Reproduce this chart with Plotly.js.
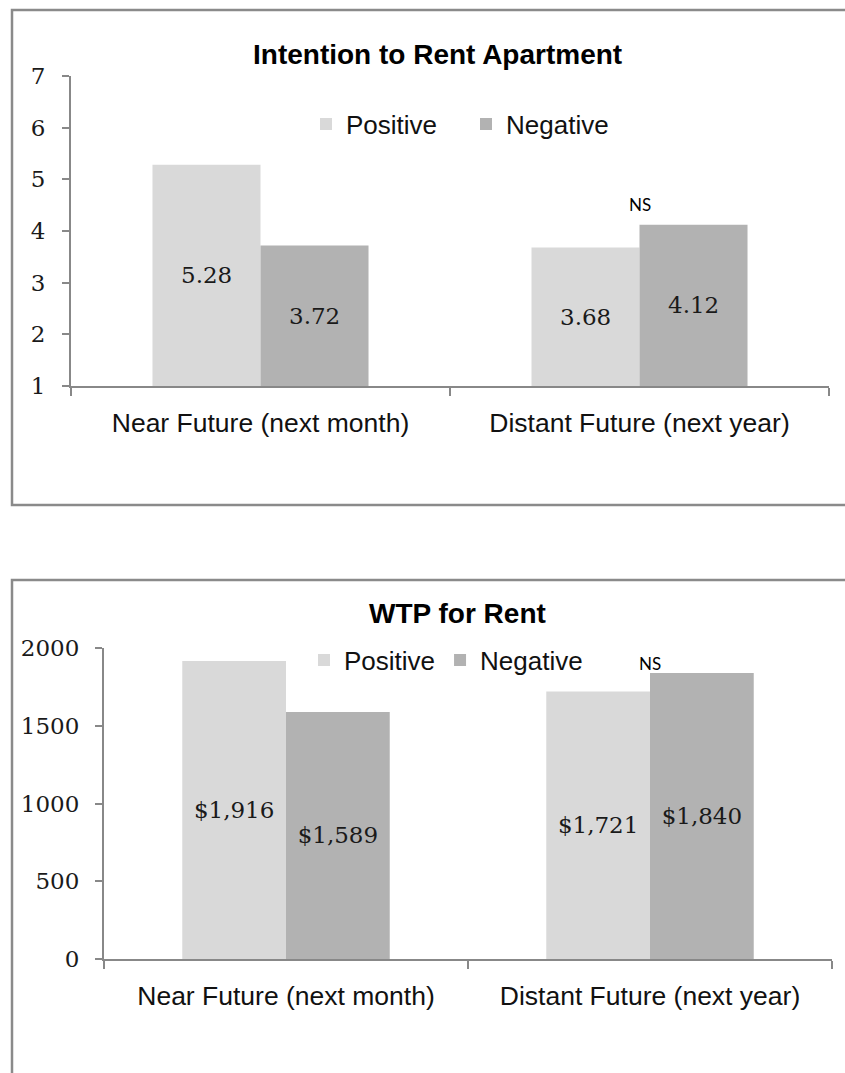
<!DOCTYPE html>
<html><head><meta charset="utf-8">
<script src="https://cdn.plot.ly/plotly-3.0.1.min.js"></script>
<style>html,body{margin:0;padding:0;background:#fff;} #chart{width:845px;height:1073px;}</style>
</head><body><div id="chart"></div>
<script>
// ---- data ----
const categories = ['Near Future (next month)', 'Distant Future (next year)'];
const seriesNames = ['Positive', 'Negative'];
const intentPositive = [5.28, 3.68];
const intentNegative = [3.72, 4.12];
const wtpPositive = [1916, 1721];
const wtpNegative = [1589, 1840];
const intentTicks = [1, 2, 3, 4, 5, 6, 7];
const wtpTicks = [0, 500, 1000, 1500, 2000];
const titleTop = 'Intention to Rent Apartment';
const titleBottom = 'WTP for Rent';
const sigNote = 'NS';

// ---- style ----
const W = 845, H = 1073;
const px = x => x / W;
const py = y => 1 - y / H;
const colPos = '#d9d9d9', colNeg = '#b2b2b2';
const axisCol = '#888888';
const sans = 'Liberation Sans, Arial, sans-serif';
const serif = 'DejaVu Serif, serif';
const BARGAP = 0.43;
const half = (1 - BARGAP) / 4; // offset of each bar centre from category centre

const traces = [
  {type: 'bar', x: categories, y: intentPositive, name: seriesNames[0], marker: {color: colPos},
   xaxis: 'x', yaxis: 'y', legend: 'legend'},
  {type: 'bar', x: categories, y: intentNegative, name: seriesNames[1], marker: {color: colNeg},
   xaxis: 'x', yaxis: 'y', legend: 'legend'},
  {type: 'bar', x: categories, y: wtpPositive, name: seriesNames[0], marker: {color: colPos},
   xaxis: 'x2', yaxis: 'y2', legend: 'legend2',
   texttemplate: '$%{y:,}', textposition: 'inside', insidetextanchor: 'middle', textangle: 0,
   constraintext: 'none', textfont: {family: serif, size: 23, color: '#1a1a1a'}},
  {type: 'bar', x: categories, y: wtpNegative, name: seriesNames[1], marker: {color: colNeg},
   xaxis: 'x2', yaxis: 'y2', legend: 'legend2',
   texttemplate: '$%{y:,}', textposition: 'inside', insidetextanchor: 'middle', textangle: 0,
   constraintext: 'none', textfont: {family: serif, size: 23, color: '#1a1a1a'}}
];

function xAxis(domain, anchor) {
  return {domain: domain, anchor: anchor, type: 'category', showline: true, linecolor: axisCol, linewidth: 2,
    ticks: 'outside', tickson: 'boundaries', ticklen: 8, tickwidth: 2, tickcolor: axisCol,
    tickfont: {family: sans, size: 26.5, color: '#111'}, ticklabelstandoff: 12,
    showgrid: false, zeroline: false, fixedrange: true};
}
function yAxis(domain, anchor, range, ticks, standoff) {
  return {domain: domain, anchor: anchor, range: range, tickvals: ticks, ticktext: ticks.map(String),
    showline: true, linecolor: axisCol, linewidth: 2,
    ticks: 'outside', ticklen: 7, tickwidth: 2, tickcolor: axisCol,
    tickfont: {family: serif, size: 23, color: '#1a1a1a'}, ticklabelstandoff: standoff,
    showgrid: false, zeroline: false, fixedrange: true};
}

const annotations = [];
annotations.push({xref: 'paper', yref: 'paper', x: px(437), y: py(54), text: '<b>' + titleTop + '</b>',
  showarrow: false, xanchor: 'center', yanchor: 'middle', font: {family: sans, size: 28, color: '#000'}});
annotations.push({xref: 'paper', yref: 'paper', x: px(457), y: py(613), text: '<b>' + titleBottom + '</b>',
  showarrow: false, xanchor: 'center', yanchor: 'middle', font: {family: sans, size: 28, color: '#000'}});
// value labels for top chart, centred in the visible part of each bar
const yMin = intentTicks[0];
[intentPositive, intentNegative].forEach((arr, s) => {
  arr.forEach((v, i) => {
    annotations.push({xref: 'x', yref: 'y', x: i + (s === 0 ? -half : half), y: (v + yMin) / 2,
      text: v.toFixed(2), showarrow: false, xanchor: 'center', yanchor: 'middle',
      font: {family: serif, size: 23, color: '#1a1a1a'}});
  });
});
annotations.push({xref: 'x', yref: 'paper', x: 1, y: py(205), text: sigNote, showarrow: false,
  xanchor: 'center', yanchor: 'middle', font: {family: 'Lato, sans-serif', size: 17, color: '#000'}});
annotations.push({xref: 'x2', yref: 'paper', x: 1, y: py(663), text: sigNote, showarrow: false,
  xanchor: 'center', yanchor: 'middle', font: {family: 'Lato, sans-serif', size: 17, color: '#000'}});

const layout = {
  width: W, height: H, autosize: false,
  margin: {l: 0, r: 0, t: 0, b: 0},
  paper_bgcolor: '#fff', plot_bgcolor: 'rgba(0,0,0,0)',
  barmode: 'group', bargap: BARGAP, bargroupgap: 0,
  xaxis: xAxis([px(71), px(829)], 'y'),
  yaxis: yAxis([py(386), py(76)], 'x', [1, 7], intentTicks, 12),
  xaxis2: xAxis([px(104), px(832)], 'y2'),
  yaxis2: yAxis([py(959), py(648)], 'x2', [0, 2000], wtpTicks, 11),
  legend: {orientation: 'h', x: px(306), xanchor: 'left', y: py(124), yanchor: 'middle',
    font: {family: sans, size: 26, color: '#111'}, bgcolor: 'rgba(0,0,0,0)',
    entrywidth: 115, entrywidthmode: 'pixels', traceorder: 'normal'},
  legend2: {orientation: 'h', x: px(304), xanchor: 'left', y: py(660), yanchor: 'middle',
    font: {family: sans, size: 26, color: '#111'}, bgcolor: 'rgba(0,0,0,0)',
    traceorder: 'normal'},
  annotations: annotations,
  shapes: [
    {type: 'rect', xref: 'paper', yref: 'paper', x0: px(12), x1: px(870), y0: py(10), y1: py(505),
     line: {color: '#8a8a8a', width: 2.5}, layer: 'below'},
    {type: 'rect', xref: 'paper', yref: 'paper', x0: px(12), x1: px(870), y0: py(580), y1: py(1100),
     line: {color: '#8a8a8a', width: 2.5}, layer: 'below'}
  ],
  showlegend: true
};

Plotly.newPlot('chart', traces, layout, {staticPlot: true, displayModeBar: false});
</script></body></html>
